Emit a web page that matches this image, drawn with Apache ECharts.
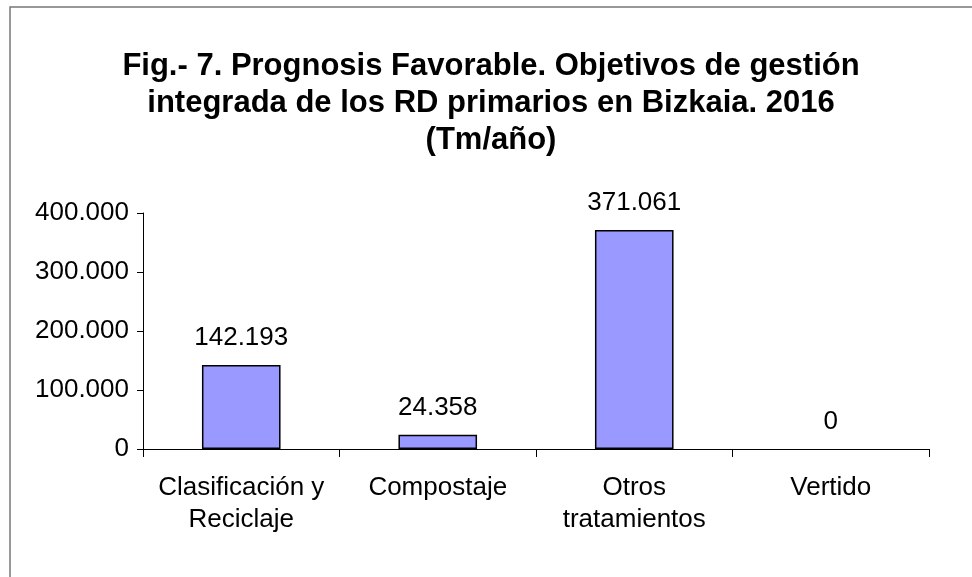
<!DOCTYPE html>
<html>
<head>
<meta charset="utf-8">
<script src="https://cdn.jsdelivr.net/npm/echarts@6/dist/echarts.min.js"></script>
<style>
  html, body { margin: 0; padding: 0; background: #fff; }
  #chart { width: 972px; height: 577px; }
</style>
</head>
<body>
<div id="chart"></div>
<script>
  var categories = ['Clasificación y\nReciclaje', 'Compostaje', 'Otros\ntratamientos', 'Vertido'];
  var values = [142193, 24358, 371061, 0];
  var yTicks = [0, 100000, 200000, 300000, 400000];
  var titleText = 'Fig.- 7. Prognosis Favorable. Objetivos de gestión\nintegrada de los RD primarios en Bizkaia. 2016\n(Tm/año)';

  // formato con punto como separador de miles
  function fmt(v) {
    return String(v).replace(/\B(?=(\d{3})+(?!\d))/g, '.');
  }

  // una barra de valor 0 no lleva borde
  var barData = values.map(function (v) {
    return v === 0 ? { value: v, itemStyle: { borderWidth: 0 } } : v;
  });

  var chart = echarts.init(document.getElementById('chart'));
  chart.setOption({
    backgroundColor: '#fff',
    animation: false,
    textStyle: { fontFamily: 'Liberation Sans, Arial, sans-serif' },
    graphic: [{
      type: 'rect',
      shape: { x: 10, y: 7, width: 1000, height: 600 },
      style: { fill: 'none', stroke: '#777', lineWidth: 1.5 }
    }],
    title: {
      text: titleText,
      left: 486,
      textAlign: 'center',
      top: 43,
      textStyle: {
        fontSize: 31,
        fontWeight: 'bold',
        color: '#000',
        lineHeight: 37,
        fontFamily: 'Liberation Sans, Arial, sans-serif'
      }
    },
    grid: { left: 143, right: 43, top: 213, bottom: 128 },
    xAxis: {
      type: 'category',
      data: categories,
      axisLine: { lineStyle: { color: '#000', width: 1 } },
      axisTick: { show: true, length: 8, lineStyle: { color: '#000' } },
      axisLabel: {
        color: '#000',
        fontSize: 26,
        lineHeight: 32,
        margin: 23,
        interval: 0
      }
    },
    yAxis: {
      type: 'value',
      min: yTicks[0],
      max: yTicks[yTicks.length - 1],
      interval: 100000,
      splitLine: { show: false },
      axisLine: { show: true, lineStyle: { color: '#000', width: 1 } },
      axisTick: { show: true, length: 6, lineStyle: { color: '#000' } },
      axisLabel: {
        color: '#000',
        fontSize: 26,
        margin: 14,
        formatter: function (v) { return fmt(v); }
      }
    },
    series: [{
      type: 'bar',
      data: barData,
      barWidth: '40%',
      itemStyle: { color: '#9999FF', borderColor: '#000', borderWidth: 1.5 },
      label: {
        show: true,
        position: 'top',
        distance: 14,
        color: '#000',
        fontSize: 26,
        formatter: function (p) { return fmt(p.value); }
      }
    }]
  });
</script>
</body>
</html>
